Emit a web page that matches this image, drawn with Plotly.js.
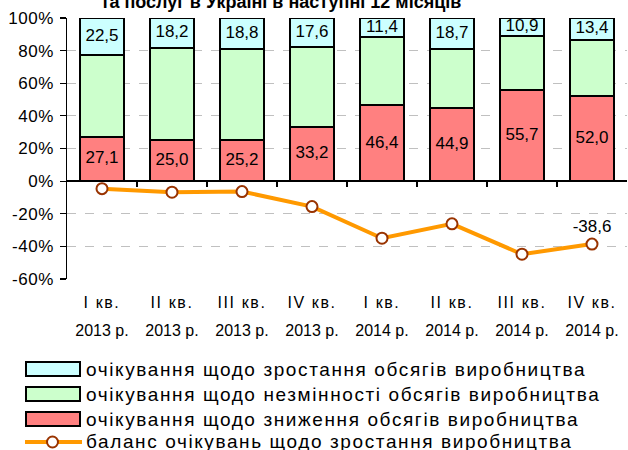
<!DOCTYPE html>
<html>
<head>
<meta charset="utf-8">
<script src="https://cdn.plot.ly/plotly-3.0.1.min.js"></script>
<style>
html,body{margin:0;padding:0;background:#fff;}
#chart{width:628px;height:450px;}
#chart .xtick text{letter-spacing:1.6px;}
#chart .ytick text{letter-spacing:0.6px;}
text.annotation-text{letter-spacing:1.6px;}
</style>
</head>
<body>
<div id="chart"></div>
<script>
// ---- data ----
const quarters = ["I кв.", "II кв.", "III кв.", "IV кв.", "I кв.", "II кв.", "III кв.", "IV кв."];
const years = ["2013 р.", "2013 р.", "2013 р.", "2013 р.", "2014 р.", "2014 р.", "2014 р.", "2014 р."];
const increase = [22.5, 18.2, 18.8, 17.6, 11.4, 18.7, 10.9, 13.4];
const unchanged = [50.4, 56.8, 56.0, 49.2, 42.2, 36.4, 33.4, 34.6];
const decrease = [27.1, 25.0, 25.2, 33.2, 46.4, 44.9, 55.7, 52.0];
const balance = [-4.6, -6.8, -6.4, -15.6, -35.0, -26.2, -44.8, -38.6];
const seriesNames = [
  "очікування щодо зростання обсягів виробництва",
  "очікування щодо незмінності обсягів виробництва",
  "очікування щодо зниження обсягів виробництва",
  "баланс очікувань щодо зростання виробництва"
];
const yTicks = [-60, -40, -20, 0, 20, 40, 60, 80, 100];
const titleText = "та послуг в Україні в наступні 12 місяців";

// ---- helpers ----
const W = 628, H = 450, ML = 67, MR = 1, MT = 18, MB = 171;
const PW = W - ML - MR, PH = H - MT - MB;
const px = x => (x - ML) / PW;
const py = y => (H - MB - y) / PH;
const fmt = v => v.toFixed(1).replace('.', ',');
const idx = quarters.map((_, i) => i);
const FONT = '"Liberation Sans", Arial, sans-serif';

const cRed = '#FF8080', cGreen = '#CCFFCC', cCyan = '#CCFFFF';
const barLine = {color: '#000', width: 2};

const traces = [
  {type: 'bar', x: idx, y: decrease, marker: {color: cRed, line: barLine}, name: seriesNames[2], hoverinfo: 'skip'},
  {type: 'bar', x: idx, y: unchanged, marker: {color: cGreen, line: barLine}, name: seriesNames[1], hoverinfo: 'skip'},
  {type: 'bar', x: idx, y: increase, marker: {color: cCyan, line: barLine}, name: seriesNames[0], hoverinfo: 'skip'},
  {type: 'scatter', mode: 'text', x: idx, y: decrease.map(v => v / 2), text: decrease.map(fmt),
   textfont: {family: FONT, size: 17, color: '#000'}, hoverinfo: 'skip'},
  {type: 'scatter', mode: 'text', x: idx, y: increase.map(v => 100 - v / 2), text: increase.map(fmt),
   textfont: {family: FONT, size: 17, color: '#000'}, hoverinfo: 'skip', cliponaxis: false},
  {type: 'scatter', mode: 'lines+markers+text', x: idx, y: balance,
   text: balance.map((v, i) => i === balance.length - 1 ? fmt(v) : ''),
   textposition: 'top center', textfont: {family: FONT, size: 17, color: '#000'},
   line: {color: '#FF9900', width: 4},
   marker: {symbol: 'circle', size: 11, color: '#FFFFFF', line: {color: '#993300', width: 2}},
   name: seriesNames[3], hoverinfo: 'skip', cliponaxis: false}
];

// legend drawn with shapes + annotations
const shapes = [];
const annotations = [];
const legendFill = [cCyan, cGreen, cRed];
const legendY = [369, 394, 419, 441];
for (let i = 0; i < 3; i++) {
  shapes.push({type: 'rect', xref: 'paper', yref: 'paper',
    x0: px(26), x1: px(80), y0: py(legendY[i] - 7), y1: py(legendY[i] + 7),
    fillcolor: legendFill[i], line: {color: '#000', width: 2}});
}
shapes.push({type: 'line', xref: 'paper', yref: 'paper',
  x0: px(25), x1: px(82), y0: py(legendY[3] + 1), y1: py(legendY[3] + 1),
  line: {color: '#FF9900', width: 4}});
shapes.push({type: 'circle', xref: 'paper', yref: 'paper',
  x0: px(47), x1: px(58), y0: py(legendY[3] + 1 - 5.5), y1: py(legendY[3] + 1 + 5.5),
  fillcolor: '#FFFFFF', line: {color: '#993300', width: 2}});
for (let i = 0; i < 4; i++) {
  annotations.push({xref: 'paper', yref: 'paper', x: px(84), y: py(legendY[i]),
    xanchor: 'left', yanchor: 'middle', showarrow: false, text: seriesNames[i],
    font: {family: FONT, size: 19, color: '#000'}});
}

const layout = {
  width: W, height: H,
  margin: {l: ML, r: MR, t: MT, b: MB, pad: 0},
  paper_bgcolor: '#fff', plot_bgcolor: '#fff',
  showlegend: false,
  title: {text: '<b>' + titleText + '</b>', font: {family: FONT, size: 18, color: '#000'},
    xref: 'paper', x: px(281), xanchor: 'center', yref: 'container', y: 1 - 2 / H, yanchor: 'middle'},
  barmode: 'stack', bargap: 0.37,
  font: {family: FONT, color: '#000'},
  xaxis: {type: 'linear', range: [-0.5, 7.5], tickvals: idx, ticktext: quarters,
    showgrid: false, zeroline: false, showline: false, ticks: '',
    tickfont: {family: FONT, size: 16, color: '#000'}, ticklabelstandoff: 12, fixedrange: true},
  xaxis2: {type: 'linear', range: [-0.5, 7.5], tickvals: idx, ticktext: years, overlaying: 'x',
    anchor: 'y', side: 'bottom', showgrid: false, zeroline: false, showline: false, ticks: '',
    tickfont: {family: FONT, size: 16, color: '#000'}, ticklabelstandoff: 40, fixedrange: true},
  xaxis3: {type: 'linear', range: [-0.5, 7.5], tickvals: idx.slice(1).map(i => i - 0.5),
    overlaying: 'x', anchor: 'free', position: 60 / 160, side: 'bottom',
    showgrid: false, zeroline: false, showline: false, ticks: 'outside', ticklen: 5,
    tickwidth: 1.5, tickcolor: '#000', showticklabels: false, fixedrange: true},
  yaxis: {range: [-60, 100], tickvals: yTicks, ticktext: yTicks.map(v => v + '%'),
    showgrid: true, gridcolor: '#C0C0C0', griddash: 'dash', gridwidth: 1,
    zeroline: true, zerolinecolor: '#000', zerolinewidth: 2,
    showline: true, linecolor: '#000', linewidth: 1.5,
    ticks: 'outside', ticklen: 6, tickcolor: '#000', tickwidth: 1.2,
    tickfont: {family: FONT, size: 17, color: '#000'}, ticklabelstandoff: 2, fixedrange: true},
  shapes: shapes,
  annotations: annotations
};

// invisible traces so the overlay axes render
traces.push({type: 'scatter', x: [0], y: [0], xaxis: 'x2', mode: 'markers', marker: {opacity: 0}, hoverinfo: 'skip'});
traces.push({type: 'scatter', x: [0], y: [0], xaxis: 'x3', mode: 'markers', marker: {opacity: 0}, hoverinfo: 'skip'});

Plotly.newPlot('chart', traces, layout, {displayModeBar: false, staticPlot: true});
</script>
</body>
</html>
